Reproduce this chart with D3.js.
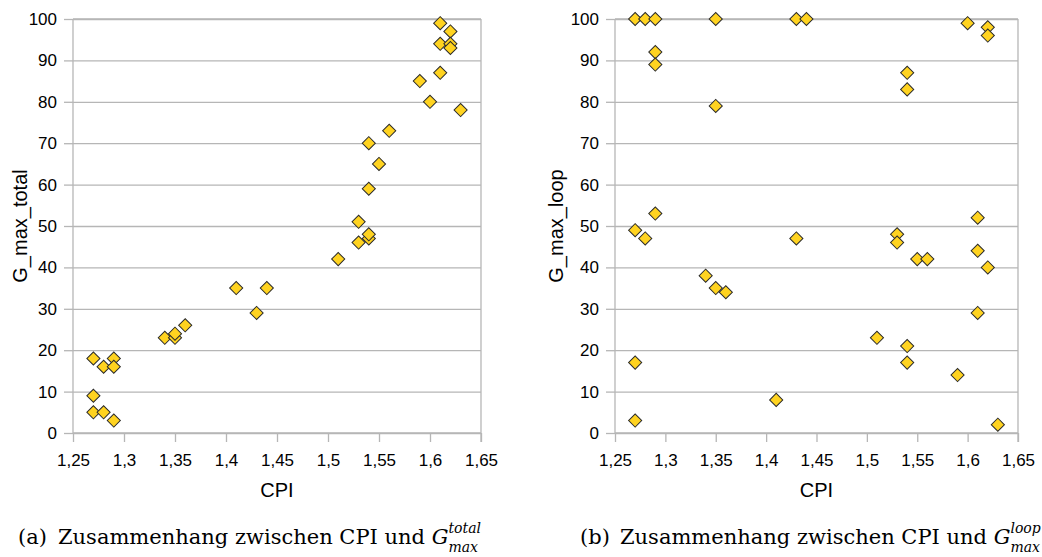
<!DOCTYPE html>
<html lang="de">
<head>
<meta charset="utf-8">
<title>CPI vs G_max</title>
<script src="https://d3js.org/d3.v7.min.js"></script>
<style>
  body { margin: 0; background: #fff; }
  svg { display: block; }
  .tick text { font-family: "Liberation Sans", Arial, sans-serif; font-size: 17px; fill: #000; }
  .axis-title { font-family: "Liberation Sans", Arial, sans-serif; font-size: 20px; fill: #000; }
  .caption { font-family: "DejaVu Serif", serif; font-size: 21px; fill: #000; }
  .script { font-family: "DejaVu Serif", serif; font-size: 14px; font-style: italic; fill: #000; }
</style>
</head>
<body>
<script>
// ---------- data ----------
var cpiTotal = [1.27, 1.27, 1.27, 1.28, 1.28, 1.29, 1.29, 1.29, 1.34, 1.35, 1.35, 1.36, 1.41, 1.43, 1.44,
                1.51, 1.53, 1.53, 1.54, 1.54, 1.54, 1.54, 1.55, 1.56, 1.59, 1.60, 1.61, 1.61, 1.61, 1.62, 1.62, 1.62, 1.63];
var gMaxTotal = [18, 9, 5, 16, 5, 18, 16, 3, 23, 23, 24, 26, 35, 29, 35,
                 42, 46, 51, 47, 48, 59, 70, 65, 73, 85, 80, 87, 94, 99, 97, 94, 93, 78];

var cpiLoop = [1.27, 1.27, 1.27, 1.27, 1.28, 1.28, 1.29, 1.29, 1.29, 1.29, 1.34, 1.35, 1.35, 1.35, 1.36, 1.41,
               1.43, 1.43, 1.44, 1.51, 1.53, 1.53, 1.54, 1.54, 1.54, 1.54, 1.55, 1.56, 1.59, 1.60,
               1.61, 1.61, 1.61, 1.62, 1.62, 1.62, 1.63];
var gMaxLoop = [100, 49, 17, 3, 100, 47, 100, 92, 89, 53, 38, 100, 79, 35, 34, 8,
                100, 47, 100, 23, 48, 46, 87, 83, 21, 17, 42, 42, 14, 99,
                52, 44, 29, 98, 96, 40, 2];

var xTicks = [1.25, 1.3, 1.35, 1.4, 1.45, 1.5, 1.55, 1.6, 1.65];
var yTicks = [0, 10, 20, 30, 40, 50, 60, 70, 80, 90, 100];

var width = 1042, height = 557;

var svg = d3.select("body").append("svg")
    .attr("width", width)
    .attr("height", height);

var fmt = function(d) { return String(+d.toFixed(2)).replace(".", ","); };

function drawPanel(opt) {
  var x = d3.scaleLinear().domain([1.25, 1.65]).range([opt.left, opt.right]);
  var y = d3.scaleLinear().domain([0, 100]).range([433, 19]);
  var g = svg.append("g");

  // horizontal grid lines
  g.append("g")
      .attr("transform", "translate(" + opt.left + ",0)")
      .call(d3.axisLeft(y).tickValues(yTicks).tickSize(-(opt.right - opt.left)).tickFormat(""))
      .call(function(s) { s.select(".domain").remove(); })
      .selectAll("line").attr("stroke", "#b6b6b6").attr("stroke-width", 1.3);

  // frame: top + right
  g.append("line").attr("x1", opt.left).attr("x2", opt.right).attr("y1", y(100)).attr("y2", y(100))
      .attr("stroke", "#b6b6b6").attr("stroke-width", 1.3);
  g.append("line").attr("x1", opt.right).attr("x2", opt.right).attr("y1", y(100)).attr("y2", y(0) + 9)
      .attr("stroke", "#b6b6b6").attr("stroke-width", 1.3);

  // y axis
  var ya = g.append("g")
      .attr("transform", "translate(" + opt.left + ",0)")
      .call(d3.axisLeft(y).tickValues(yTicks).tickSize(9).tickPadding(7).tickFormat(d3.format("d")));
  ya.selectAll("line, path").attr("stroke", "#b6b6b6").attr("stroke-width", 1.3);
  ya.select(".domain").attr("d", "M0," + y(100) + "V" + y(0));

  // x axis
  var xa = g.append("g")
      .attr("transform", "translate(0," + y(0) + ")")
      .call(d3.axisBottom(x).tickValues(xTicks).tickSize(9).tickPadding(12).tickFormat(fmt));
  xa.selectAll("line, path").attr("stroke", "#b6b6b6").attr("stroke-width", 1.3);
  xa.select(".domain").attr("d", "M" + opt.left + ",0H" + opt.right);

  // axis titles
  g.append("text").attr("class", "axis-title")
      .attr("x", (opt.left + opt.right) / 2).attr("y", 497)
      .attr("text-anchor", "middle").text("CPI");
  g.append("text").attr("class", "axis-title")
      .attr("transform", "translate(" + opt.ylabX + "," + (y(0) + y(100)) / 2 + ") rotate(-90)")
      .attr("text-anchor", "middle").text(opt.ylabel);

  // points
  var sym = d3.symbol().type(d3.symbolSquare).size(86);
  g.append("g").selectAll("path")
      .data(opt.xs.map(function(v, i) { return [v, opt.ys[i]]; }))
      .enter().append("path")
      .attr("d", sym)
      .attr("transform", function(d) { return "translate(" + x(d[0]) + "," + y(d[1]) + ") rotate(45)"; })
      .attr("fill", "#ffd320")
      .attr("stroke", "#2b2b2b")
      .attr("stroke-width", 1);

  // caption: main text, then super-/subscript as separate texts after the G
  g.append("text").attr("class", "caption").attr("x", opt.capX).attr("y", 544).text(opt.capTag);
  var cap = g.append("text").attr("class", "caption").attr("x", opt.capX + 40).attr("y", 544);
  cap.append("tspan").text("Zusammenhang zwischen CPI und ");
  cap.append("tspan").attr("font-style", "italic").text("G");
  var box = cap.node().getBBox();
  var sx = box.x + box.width;
  g.append("text").attr("class", "script").attr("x", sx).attr("y", 533).text(opt.sup);
  g.append("text").attr("class", "script").attr("x", sx).attr("y", 552).text("max");
}

drawPanel({ left: 73, right: 481, xs: cpiTotal, ys: gMaxTotal, ylabel: "G_max_total", ylabX: 27,
            capX: 18, capTag: "(a)", sup: "total" });
drawPanel({ left: 615, right: 1018, xs: cpiLoop, ys: gMaxLoop, ylabel: "G_max_loop", ylabX: 563,
            capX: 580, capTag: "(b)", sup: "loop" });
</script>
</body>
</html>
